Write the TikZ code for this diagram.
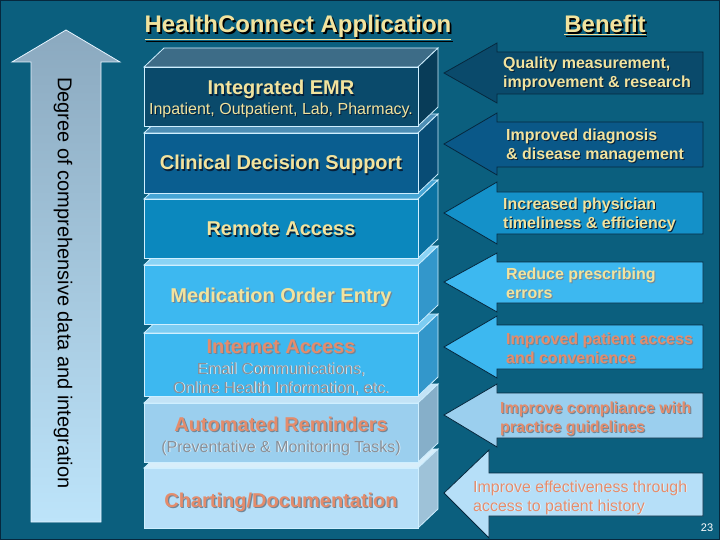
\documentclass[tikz,border=0pt]{standalone}
\usepackage{fontspec}
\setmainfont{Liberation Sans}
\definecolor{bg}{HTML}{0B5F7E}
\definecolor{bdr}{HTML}{06283E}
\definecolor{cream}{HTML}{F2E39E}
\definecolor{salmon}{HTML}{E48C6C}
\definecolor{subgray}{HTML}{8A8F96}
\definecolor{shdark}{HTML}{06203A}
\definecolor{shgray}{HTML}{6F8799}
\definecolor{shlight}{HTML}{E8F6FF}
\definecolor{la1}{HTML}{8BA9BF}
\definecolor{la2}{HTML}{BDE4FA}
\definecolor{laedge}{HTML}{E6F4FF}
\definecolor{bedge}{HTML}{CFEFFF}
\definecolor{aedge}{HTML}{06283E}
% box colours: front, side, top
\definecolor{bf1}{HTML}{0A4A6B}\definecolor{bs1}{HTML}{083C58}\definecolor{bt1}{HTML}{3D6C87}
\definecolor{bf2}{HTML}{0A5E90}\definecolor{bs2}{HTML}{084C75}\definecolor{bt2}{HTML}{4D8EB5}
\definecolor{bf3}{HTML}{0B88BE}\definecolor{bs3}{HTML}{0A72A2}\definecolor{bt3}{HTML}{45A4D4}
\definecolor{bf4}{HTML}{3DB8F0}\definecolor{bs4}{HTML}{3397CB}\definecolor{bt4}{HTML}{8AD3F5}
\definecolor{bf5}{HTML}{3DB8F0}\definecolor{bs5}{HTML}{3397CB}\definecolor{bt5}{HTML}{7CCCF2}
\definecolor{bf6}{HTML}{9BCFEE}\definecolor{bs6}{HTML}{86AFC9}\definecolor{bt6}{HTML}{C3E3F6}
\definecolor{bf7}{HTML}{B6DFF8}\definecolor{bs7}{HTML}{9EC2D8}\definecolor{bt7}{HTML}{D8EEFA}
% arrow colours
\definecolor{af1}{HTML}{0A4A6B}
\definecolor{af2}{HTML}{0A5888}
\definecolor{af3}{HTML}{1491C9}
\definecolor{af4}{HTML}{3DB8F0}
\definecolor{af5}{HTML}{3DB8F0}
\definecolor{af6}{HTML}{9BCFEE}
\definecolor{af7}{HTML}{B6DFF8}
\newcommand{\txtsh}[3][1.2pt]{\leavevmode\rlap{\kern#1\raisebox{-#1}{\textcolor{#2}{#3}}}#3}
\tikzset{
  hdr/.style={font=\fontsize{24}{28}\selectfont\bfseries, text=cream, inner sep=0pt, anchor=base},
  ttl/.style={font=\fontsize{20}{24}\selectfont\bfseries, inner sep=0pt, anchor=base},
  subt/.style={font=\fontsize{16}{19}\selectfont, inner sep=0pt, anchor=base},
  bentxt/.style={font=\fontsize{16}{19}\selectfont\bfseries, inner sep=0pt, anchor=base west, align=left},
  bentxtreg/.style={font=\fontsize{16}{19}\selectfont, inner sep=0pt, anchor=base west, align=left},
  sidetxt/.style={font=\fontsize{20}{24}\selectfont, text=black, inner sep=0pt, rotate=-90},
  boxedge/.style={draw=bedge, line width=0.8pt, line join=miter},
  arrowshape/.style={draw=aedge, line width=0.8pt, line join=miter},
}
\begin{document}
\begin{tikzpicture}[x=1pt,y=-1pt]
\useasboundingbox (0,0) rectangle (720,540);
\fill[bg] (0,0) rectangle (720,540);
\draw[bdr, line width=2pt] (0,0) rectangle (720,540);

% headers
\node[hdr] (happ) at (298,33) {\txtsh[1.8pt]{black}{\underline{HealthConnect Application}}};
\node[hdr] (hben) at (605,33) {\txtsh[1.8pt]{black}{\underline{Benefit}}};

% left arrow
\shade[top color=la1, bottom color=la2, draw=laedge, line width=0.8pt]
  (66,30) -- (120,62) -- (101,62) -- (101,522) -- (31,522) -- (31,62) -- (12,62) -- cycle;
\node[sidetxt] (deg) at (63,283) {Degree of comprehensive data and integration};

% stacked boxes, bottom first
\foreach \i/\t/\b in {7/468/528,6/403/462,5/333/396,4/265/324,3/199/258,2/133/193,1/67/126} {
  \filldraw[fill=bt\i, boxedge] (144,\t) -- (164,\t-19) -- (438,\t-19) -- (418,\t) -- cycle;
  \filldraw[fill=bs\i, boxedge] (418,\t) -- (438,\t-19) -- (438,\b-19) -- (418,\b) -- cycle;
  \filldraw[fill=bf\i, boxedge] (144,\t) rectangle (418,\b);
}

% box texts
\node[ttl, text=cream] (emr) at (281,95) {\txtsh{shdark}{Integrated EMR}};
\node[subt, text=cream] (emrsub) at (281,115) {\txtsh[1pt]{shdark}{Inpatient, Outpatient, Lab, Pharmacy.}};
\node[ttl, text=cream] (cds) at (281,170) {\txtsh{shdark}{Clinical Decision Support}};
\node[ttl, text=cream] (remote) at (281,236) {\txtsh{shdark}{Remote Access}};
\node[ttl, text=cream] (moe) at (281,302) {\txtsh{shgray}{Medication Order Entry}};
\node[ttl, text=salmon] (inet) at (281,353) {\txtsh{shgray}{Internet Access}};
\node[subt, text=subgray] (inetsub1) at (281,374) {\txtsh[0.8pt]{shlight}{Email Communications,}};
\node[subt, text=subgray] (inetsub2) at (281,393) {\txtsh[0.8pt]{shlight}{Online Health Information, etc.}};
\node[ttl, text=salmon] (auto) at (281,431) {\txtsh{shgray}{Automated Reminders}};
\node[subt, text=subgray] (autosub) at (281,452) {\txtsh[0.8pt]{shlight}{(Preventative \& Monitoring Tasks)}};
\node[ttl, text=salmon] (chart) at (281,507) {\txtsh{shgray}{Charting/Documentation}};

% benefit arrows
\foreach \i/\ty/\ht/\hb/\bt/\bb/\bx in {1/73/43/103/52/94/497, 2/144/113/175/122/167/497,
   3/213/182/244/192/234/497, 4/282/253/312/262/303/497, 5/347/316/378/325/369/497,
   6/415/384/447/393/438/497, 7/493/450/538/473/516/489} {
  \filldraw[fill=af\i, arrowshape] (444,\ty) -- (\bx,\ht) -- (\bx,\bt) -- (703,\bt)
     -- (703,\bb) -- (\bx,\bb) -- (\bx,\hb) -- cycle;
}

% benefit texts (anchor = baseline of the second line)
\node[bentxt, text=cream] (b1) at (503,88) {\txtsh[1pt]{shdark}{Quality measurement,}\\\txtsh[1pt]{shdark}{improvement \& research}};
\node[bentxt, text=cream] (b2) at (506,160) {\txtsh[1pt]{shdark}{Improved diagnosis}\\\txtsh[1pt]{shdark}{\& disease management}};
\node[bentxt, text=cream] (b3) at (503,229) {\txtsh[1pt]{shdark}{Increased physician}\\\txtsh[1pt]{shdark}{timeliness \& efficiency}};
\node[bentxt, text=cream] (b4) at (506,298) {\txtsh[1pt]{shgray}{Reduce prescribing}\\\txtsh[1pt]{shgray}{errors}};
\node[bentxt, text=salmon] (b5) at (506,363) {\txtsh[1pt]{shgray}{Improved patient access}\\\txtsh[1pt]{shgray}{and convenience}};
\node[bentxt, text=salmon] (b6) at (500,432) {\txtsh[1pt]{shgray}{Improve compliance with}\\\txtsh[1pt]{shgray}{practice guidelines}};
\node[bentxtreg, text=salmon] (b7) at (473,511) {\txtsh[0.8pt]{shlight}{Improve effectiveness through}\\\txtsh[0.8pt]{shlight}{access to patient history}};

\node[font=\fontsize{11}{13}\selectfont, text=white, inner sep=0pt] (pg) at (707,528) {23};
\end{tikzpicture}
\end{document}
